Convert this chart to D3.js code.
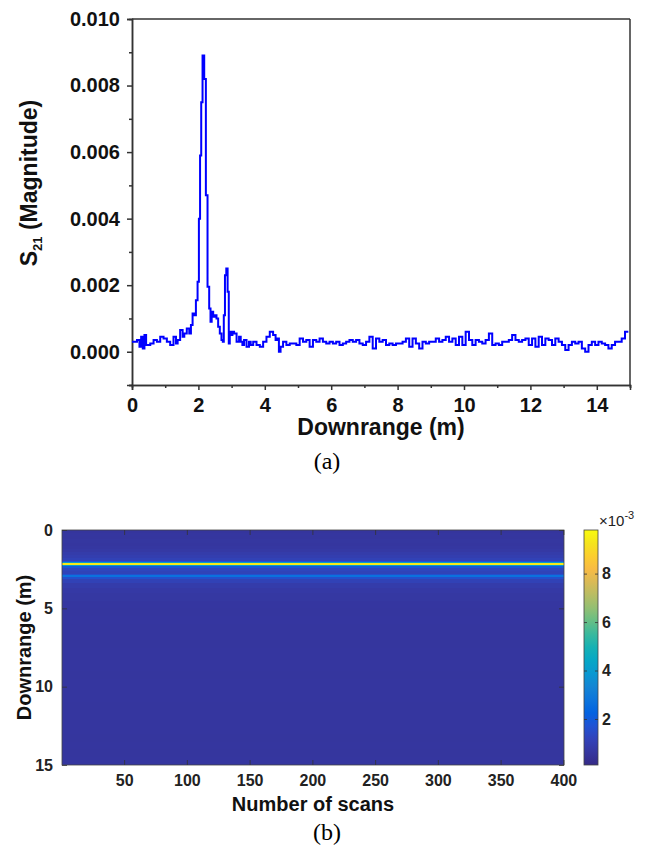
<!DOCTYPE html>
<html>
<head>
<meta charset="utf-8">
<script src="https://cdn.jsdelivr.net/npm/d3@7"></script>
<style>
  html, body { margin: 0; padding: 0; background: #fff; }
  svg { display: block; }
</style>
</head>
<body>
<svg id="chart" width="652" height="848"></svg>
<script>
// ---------------- DATA ----------------
// (a) S21 magnitude vs downrange
const downrange = [
  0.0,0.1,0.2,0.25,0.3,0.35,0.4,0.45,0.5,0.6,0.7,0.8,0.9,1.0,1.1,1.2,1.3,1.35,1.4,1.5,
  1.55,1.6,1.7,1.75,1.8,1.85,1.9,1.95,2.0,2.03,2.07,2.1,2.15,2.2,2.25,2.3,2.35,2.38,2.42,2.47,
  2.52,2.57,2.62,2.67,2.72,2.75,2.78,2.82,2.86,2.9,2.93,2.96,3.0,3.05,3.1,3.2,3.25,3.3,3.35,3.4,
  3.5,3.55,3.6,3.7,3.8,3.9,4.0,4.1,4.2,4.3,4.35,4.4,4.45,4.5,4.6,4.7,4.8,4.9,5.0,5.1,
  5.2,5.3,5.4,5.5,5.6,5.7,5.8,5.9,6.0,6.1,6.2,6.3,6.4,6.5,6.6,6.7,6.8,6.9,7.0,7.1,
  7.2,7.3,7.4,7.5,7.6,7.7,7.8,7.9,8.0,8.1,8.2,8.3,8.4,8.5,8.6,8.7,8.8,8.9,9.0,9.1,
  9.2,9.3,9.4,9.5,9.6,9.7,9.8,9.9,10.0,10.1,10.2,10.3,10.4,10.5,10.6,10.7,10.8,10.9,11.0,11.1,
  11.2,11.3,11.4,11.5,11.6,11.7,11.8,11.9,12.0,12.1,12.2,12.3,12.4,12.5,12.6,12.7,12.8,12.9,13.0,13.1,
  13.2,13.3,13.4,13.5,13.6,13.7,13.8,13.9,14.0,14.1,14.2,14.3,14.4,14.5,14.6,14.7,14.8,14.9,14.95
];
const magnitude = [
  0.00030,0.00030,0.00035,0.00015,0.00045,0.00010,0.00050,0.00020,0.00020,0.00025,0.00035,0.00030,0.00045,0.00040,0.00030,0.00020,0.00045,0.00025,0.00035,0.00065,
  0.00045,0.00055,0.00070,0.00055,0.00080,0.00115,0.00110,0.00155,0.00210,0.00400,0.00590,0.00750,0.00890,0.00820,0.00470,0.00195,0.00130,0.00090,0.00120,0.00105,
  0.00110,0.00100,0.00075,0.00055,0.00035,0.00030,0.00110,0.00230,0.00250,0.00180,0.00025,0.00060,0.00050,0.00060,0.00055,0.00030,0.00045,0.00030,0.00020,0.00035,
  0.00015,0.00030,0.00020,0.00030,0.00020,0.00015,0.00030,0.00045,0.00060,0.00050,0.00035,0.00040,0.00000,0.00015,0.00030,0.00020,0.00025,0.00025,0.00020,0.00040,
  0.00030,0.00035,0.00015,0.00035,0.00030,0.00040,0.00030,0.00025,0.00030,0.00025,0.00030,0.00020,0.00025,0.00030,0.00035,0.00030,0.00035,0.00025,0.00020,0.00030,
  0.00045,0.00010,0.00040,0.00030,0.00035,0.00020,0.00025,0.00020,0.00025,0.00025,0.00030,0.00040,0.00015,0.00040,0.00025,0.00010,0.00030,0.00025,0.00030,0.00030,
  0.00040,0.00030,0.00035,0.00045,0.00030,0.00040,0.00020,0.00045,0.00020,0.00060,0.00035,0.00020,0.00035,0.00030,0.00025,0.00035,0.00055,0.00020,0.00025,0.00020,
  0.00030,0.00030,0.00035,0.00050,0.00035,0.00030,0.00035,0.00040,0.00020,0.00040,0.00015,0.00045,0.00020,0.00040,0.00035,0.00020,0.00040,0.00030,0.00020,0.00005,
  0.00020,0.00030,0.00025,0.00030,0.00010,0.00000,0.00020,0.00030,0.00020,0.00030,0.00025,0.00020,0.00010,0.00020,0.00030,0.00030,0.00040,0.00060,0.00060
];
const yTicksA = [0, 0.002, 0.004, 0.006, 0.008, 0.010];
const yMinorA = [-0.001, 0.001, 0.003, 0.005, 0.007, 0.009];
const xTicksA = [0, 2, 4, 6, 8, 10, 12, 14];
const xMinorA = [1, 3, 5, 7, 9, 11, 13, 15];

// (b) scans x downrange map (values in units of 1e-3), bands start at heatEdges
const scanCount = 400;
const heatEdges = [
  0.0,0.2,0.4,0.6,0.8,1.0,1.2,1.4,1.6,1.8,1.95,2.05,2.12,2.22,2.28,2.4,2.6,2.8,2.88,3.0,
  3.1,3.4,3.7,4.0,4.5,5.0,5.5,6.0,6.5,7.0,7.5,8.0,8.5,9.0,9.5,10.0,10.5,11.0,11.5,12.0,
  12.5,13.0,13.5,14.0,14.5
];
const heatLevels = [
  0.58,0.62,0.6,0.64,0.62,0.66,0.72,0.85,0.95,1.1,1.8,4.0,9.4,4.0,1.9,1.25,1.15,1.6,2.7,1.6,
  1.1,0.85,0.75,0.68,0.63,0.61,0.63,0.61,0.62,0.6,0.62,0.61,0.62,0.6,0.62,0.61,0.61,0.6,0.62,0.61,
  0.62,0.6,0.61,0.6,0.61
];
const scanTicks = [50, 100, 150, 200, 250, 300, 350, 400];
const rangeTicksB = [0, 5, 10, 15];
const colorTicks = [2, 4, 6, 8];
const colorDomain = [0.1, 9.8];

// MATLAB parula colormap samples
const parula = [
  [0.2081,0.1663,0.5292],[0.2123,0.2138,0.6270],[0.1959,0.2645,0.7279],[0.1253,0.3242,0.8303],
  [0.0117,0.3875,0.8820],[0.0498,0.4586,0.8641],[0.0793,0.5200,0.8312],[0.0343,0.5966,0.8199],
  [0.0228,0.6535,0.7768],[0.0843,0.6928,0.7062],[0.2178,0.7250,0.6193],[0.3953,0.7459,0.5244],
  [0.5709,0.7485,0.4494],[0.7184,0.7411,0.3905],[0.8507,0.7299,0.3360],[0.9739,0.7314,0.2666],
  [0.9880,0.8066,0.1794],[0.9589,0.8949,0.1132],[0.9763,0.9831,0.0538]
];

// ---------------- DRAW ----------------
const svg = d3.select("#chart");
const FONT = '"Liberation Sans", Arial, Helvetica, sans-serif';
const SERIF = '"Liberation Serif", "Times New Roman", serif';
const axisCol = "#333";

// ----- (a) line chart -----
const A = {left: 132, right: 630, top: 19, bottom: 385};
const xA = d3.scaleLinear().domain([0, 15]).range([A.left, A.right]);
const yA = d3.scaleLinear().domain([-0.001, 0.010]).range([A.bottom, A.top]);

const gA = svg.append("g");
gA.append("defs").append("clipPath").attr("id", "clipA")
  .append("rect").attr("x", A.left).attr("y", A.top)
  .attr("width", A.right - A.left).attr("height", A.bottom - A.top);

gA.append("line").attr("x1", A.left).attr("x2", A.right).attr("y1", A.top).attr("y2", A.top)
  .attr("stroke", axisCol).attr("stroke-width", 1.5);
gA.append("line").attr("x1", A.right).attr("x2", A.right).attr("y1", A.top).attr("y2", A.bottom)
  .attr("stroke", axisCol).attr("stroke-width", 1.5);

function styleAxis(g, size, weight) {
  g.select(".domain").attr("stroke", axisCol).attr("stroke-width", 1.5);
  g.selectAll(".tick line").attr("stroke", axisCol).attr("stroke-width", 1.5);
  g.selectAll(".tick text").attr("fill", "#111").style("font-family", FONT)
    .style("font-size", size + "px").style("font-weight", weight);
}

const yAxisA = gA.append("g").attr("transform", `translate(${A.left},0)`)
  .call(d3.axisLeft(yA).tickValues(yTicksA).tickFormat(d3.format(".3f")).tickSize(5).tickPadding(7));
styleAxis(yAxisA, 20, "bold");
const yMinA = gA.append("g").attr("transform", `translate(${A.left},0)`)
  .call(d3.axisLeft(yA).tickValues(yMinorA).tickFormat("").tickSize(3));
styleAxis(yMinA, 20, "bold");

const xAxisA = gA.append("g").attr("transform", `translate(0,${A.bottom})`)
  .call(d3.axisBottom(xA).tickValues(xTicksA).tickFormat(d3.format("d")).tickSize(5).tickPadding(8));
styleAxis(xAxisA, 20, "bold");
const xMinA = gA.append("g").attr("transform", `translate(0,${A.bottom})`)
  .call(d3.axisBottom(xA).tickValues(xMinorA).tickFormat("").tickSize(3));
styleAxis(xMinA, 20, "bold");

const pts = downrange.map((d, i) => [d, magnitude[i]]);
gA.append("path").datum(pts)
  .attr("clip-path", "url(#clipA)")
  .attr("fill", "none").attr("stroke", "#0000ff").attr("stroke-width", 2)
  .attr("stroke-linejoin", "miter")
  .attr("d", d3.line().x(d => xA(d[0])).y(d => yA(d[1])).curve(d3.curveStep));

gA.append("text").attr("x", (A.left + A.right) / 2).attr("y", 435)
  .attr("text-anchor", "middle").style("font-family", FONT).style("font-weight", "bold")
  .style("font-size", "23px").attr("fill", "#111").text("Downrange (m)");

const yTitle = gA.append("text").attr("transform", "translate(37,183) rotate(-90)")
  .attr("text-anchor", "middle").style("font-family", FONT).style("font-weight", "bold")
  .style("font-size", "23px").attr("fill", "#111");
yTitle.append("tspan").text("S");
yTitle.append("tspan").attr("dy", 5).style("font-size", "13px").text("21");
yTitle.append("tspan").attr("dy", -5).text(" (Magnitude)");

svg.append("text").attr("x", 327).attr("y", 469).attr("text-anchor", "middle")
  .style("font-family", SERIF).style("font-size", "24px").attr("fill", "#000").text("(a)");

// ----- (b) heatmap -----
const B = {left: 62, right: 564, top: 530, bottom: 765};
const xB = d3.scaleLinear().domain([0.5, scanCount + 0.5]).range([B.left, B.right]);
const yB = d3.scaleLinear().domain([0, 15]).range([B.top, B.bottom]);
const parulaInterp = d3.interpolateRgbBasis(parula.map(c => d3.rgb(c[0] * 255, c[1] * 255, c[2] * 255)));
const color = d3.scaleSequential(parulaInterp).domain(colorDomain).clamp(true);

const gB = svg.append("g");
const bands = heatEdges.map((e, i) => ({
  y0: e, y1: i + 1 < heatEdges.length ? heatEdges[i + 1] : 15, v: heatLevels[i]
}));
gB.selectAll("rect.band").data(bands).join("rect").attr("class", "band")
  .attr("x", xB(0.5)).attr("width", xB(scanCount + 0.5) - xB(0.5))
  .attr("y", d => Math.round(yB(d.y0)))
  .attr("height", d => Math.max(1, Math.round(yB(d.y1)) - Math.round(yB(d.y0))))
  .attr("fill", d => color(d.v)).attr("shape-rendering", "crispEdges");

gB.append("rect").attr("x", B.left).attr("y", B.top).attr("width", B.right - B.left)
  .attr("height", B.bottom - B.top).attr("fill", "none").attr("stroke", "#444").attr("stroke-width", 0.8);

function styleAxisB(g) {
  g.select(".domain").remove();
  g.selectAll(".tick line").attr("stroke", "#333").attr("stroke-width", 0.8);
  g.selectAll(".tick text").attr("fill", "#222").style("font-family", FONT)
    .style("font-size", "16px").style("font-weight", "bold");
}
const xAxB = gB.append("g").attr("transform", `translate(0,${B.bottom})`)
  .call(d3.axisBottom(xB).tickValues(scanTicks).tickSizeInner(-5).tickSizeOuter(0).tickPadding(10));
styleAxisB(xAxB);
const xAxBTop = gB.append("g").attr("transform", `translate(0,${B.top})`)
  .call(d3.axisTop(xB).tickValues(scanTicks).tickFormat("").tickSizeInner(-5).tickSizeOuter(0));
styleAxisB(xAxBTop);
const yAxB = gB.append("g").attr("transform", `translate(${B.left},0)`)
  .call(d3.axisLeft(yB).tickValues(rangeTicksB).tickSizeInner(-5).tickSizeOuter(0).tickPadding(9));
styleAxisB(yAxB);
const yAxBR = gB.append("g").attr("transform", `translate(${B.right},0)`)
  .call(d3.axisRight(yB).tickValues(rangeTicksB).tickFormat("").tickSizeInner(-5).tickSizeOuter(0));
styleAxisB(yAxBR);

gB.append("text").attr("x", (B.left + B.right) / 2).attr("y", 811).attr("text-anchor", "middle")
  .style("font-family", FONT).style("font-weight", "bold").style("font-size", "20px")
  .attr("fill", "#111").text("Number of scans");
gB.append("text").attr("transform", `translate(31,${(B.top + B.bottom) / 2}) rotate(-90)`)
  .attr("text-anchor", "middle").style("font-family", FONT).style("font-weight", "bold")
  .style("font-size", "20px").attr("fill", "#111").text("Downrange (m)");

// colorbar
const C = {left: 584, right: 598};
const yC = d3.scaleLinear().domain(colorDomain).range([B.bottom, B.top]);
const defs = svg.append("defs");
const grad = defs.append("linearGradient").attr("id", "parulaGrad")
  .attr("x1", 0).attr("y1", 1).attr("x2", 0).attr("y2", 0);
parula.forEach((c, i) => {
  grad.append("stop").attr("offset", i / (parula.length - 1))
    .attr("stop-color", d3.rgb(c[0] * 255, c[1] * 255, c[2] * 255).formatHex());
});
gB.append("rect").attr("x", C.left).attr("y", B.top).attr("width", C.right - C.left)
  .attr("height", B.bottom - B.top).attr("fill", "url(#parulaGrad)")
  .attr("stroke", "#444").attr("stroke-width", 0.8);
const cAx = gB.append("g").attr("transform", `translate(${C.right},0)`)
  .call(d3.axisRight(yC).tickValues(colorTicks).tickSizeInner(-3).tickSizeOuter(0).tickPadding(6));
styleAxisB(cAx);
cAx.selectAll(".tick text").attr("x", 4);
const cAxL = gB.append("g").attr("transform", `translate(${C.left},0)`)
  .call(d3.axisLeft(yC).tickValues(colorTicks).tickFormat("").tickSizeInner(-3).tickSizeOuter(0));
styleAxisB(cAxL);

const expo = gB.append("text").attr("x", 599).attr("y", 526)
  .style("font-family", FONT).style("font-size", "15px").attr("fill", "#222");
expo.append("tspan").text("×10");
expo.append("tspan").attr("dy", -7).style("font-size", "11px").text("-3");

svg.append("text").attr("x", 327).attr("y", 840).attr("text-anchor", "middle")
  .style("font-family", SERIF).style("font-size", "24px").attr("fill", "#000").text("(b)");
</script>
</body>
</html>
